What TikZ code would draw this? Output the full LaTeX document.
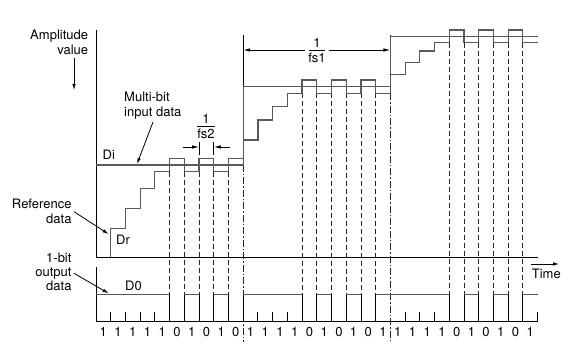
\documentclass[tikz,border=0pt]{standalone}
\usepackage{fontspec}
\setmainfont{TeX Gyre Heros}
\usetikzlibrary{arrows.meta}
\begin{document}
\begin{tikzpicture}[x=1pt,y=-1pt,
  axis/.style={line width=0.9pt,black},
  thin/.style={line width=0.8pt,black},
  wave/.style={line width=1.2pt,black!65,line join=miter},
  dsh/.style={line width=0.8pt,black!85,dash pattern=on 5pt off 3pt},
  dashdot/.style={line width=0.8pt,black!85,dash pattern=on 7pt off 2pt on 1.5pt off 2pt},
  lbl/.style={font=\fontsize{13}{14.7}\selectfont,inner sep=0pt},
  arr/.style={line width=0.8pt,-{Latex[length=6pt,width=3.5pt]}},
  dimarr/.style={line width=0.8pt,-{Latex[length=7pt,width=3.5pt]}}
]
\useasboundingbox (0,0) rectangle (570,347);

% axes
\draw[axis] (96,30) -- (96,257) -- (537.6,257);
\draw[axis] (96,267) -- (96,321) -- (537.6,321) -- (537.6,312);
\foreach \k in {1,2,3,4,11,12,13,21,22,23}
  \draw[axis] ({96+14.72*\k},321) -- ({96+14.72*\k},312);

% dashed guide lines
\foreach \k in {5,...,9}
  \draw[dsh] ({96+14.72*\k},171.7) -- ({96+14.72*\k},294.3);
\foreach \k in {14,...,19}
  \draw[dsh] ({96+14.72*\k},93.3) -- ({96+14.72*\k},294.3);
\foreach \k in {24,...,29}
  \draw[dsh] ({96+14.72*\k},42.7) -- ({96+14.72*\k},294.3);
\draw[dashdot] ({96+14.72*10},165) -- ({96+14.72*10},341.7);
\draw[dashdot] ({96+14.72*20},93.3) -- ({96+14.72*20},341.7);

% extension lines for 1/fs1
\draw[thin] ({96+14.72*10},35) -- ({96+14.72*10},165);
\draw[thin] ({96+14.72*20},35) -- ({96+14.72*20},37);

% Di (multi-bit input data)
\draw[wave] (96,165) -- ({96+14.72*10},165) -- ({96+14.72*10},86.7)
  -- ({96+14.72*20},86.7) -- ({96+14.72*20},36.7) -- (537.6,36.7);

% Dr (reference data)
\draw[wave] ({96+14.72*1},257)
  foreach \k/\v in {1/228.3,2/208.3,3/188.3,4/171.7,5/158.3,6/171.7,7/158.3,8/171.7,9/158.3,
    10/140,11/120,12/106.7,13/93.3,14/80,15/93.3,16/80,17/93.3,18/80,19/93.3,
    20/74.3,21/62.7,22/51,23/42.7,24/30,25/42.7,26/30,27/42.7,28/30,29/42.7}
  { -- ({96+14.72*\k},\v) -- ({96+14.72*(\k+1)},\v) };

% D0 (1-bit output data)
\draw[wave] (96,294.3) -- ({96+14.72*5},294.3);
\draw[axis] ({96+14.72*5},294.3) -- ({96+14.72*5},321);
\foreach \a/\b in {6/7,8/9,10/14,15/16,17/18,19/24,25/26,27/28} {
  \draw[axis] ({96+14.72*\a},321) -- ({96+14.72*\a},294.3);
  \draw[wave] ({96+14.72*\a},294.3) -- ({96+14.72*\b},294.3);
  \draw[axis] ({96+14.72*\b},294.3) -- ({96+14.72*\b},321);
}
\draw[axis] ({96+14.72*29},321) -- ({96+14.72*29},294.3);
\draw[wave] ({96+14.72*29},294.3) -- (537.6,294.3);

% bit labels
\foreach \k/\b in {0/1,1/1,2/1,3/1,4/1,5/0,6/1,7/0,8/1,9/0,
  10/1,11/1,12/1,13/1,14/0,15/1,16/0,17/1,18/0,19/1,
  20/1,21/1,22/1,23/1,24/0,25/1,26/0,27/1,28/0,29/1}
  \node[lbl,anchor=base] (bit\k) at ({96+14.72*(\k+0.5)},336) {\b};

% 1/fs1
\node[lbl] (fsonenum) at (317,43.3) {1};
\node[lbl] (fsoneden) at (317,58.3) {fs1};
\draw[thin] (309,50) -- (325,50);
\coordinate (fsoneL) at ({96+14.72*10},50);
\coordinate (fsoneR) at ({96+14.72*20},50);
\coordinate (fsoneLs) at (305,50);
\coordinate (fsoneRs) at (329,50);
\draw[dimarr] (fsoneLs) -- (fsoneL);
\draw[dimarr] (fsoneRs) -- (fsoneR);

% 1/fs2
\node[lbl] (fstwonum) at (206,119.3) {1};
\node[lbl] (fstwoden) at (206,134) {fs2};
\draw[thin] (197,126.7) -- (215,126.7);
\draw[thin] ({96+14.72*7},141.7) -- ({96+14.72*7},155);
\draw[thin] ({96+14.72*8},141.7) -- ({96+14.72*8},155);
\coordinate (fstwoL) at ({96+14.72*7},147);
\coordinate (fstwoR) at ({96+14.72*8},147);
\coordinate (fstwoLs) at (182.7,147);
\coordinate (fstwoRs) at (230,147);
\draw[dimarr] (fstwoLs) -- (fstwoL);
\draw[dimarr] (fstwoRs) -- (fstwoR);

% labels (base anchor = baseline of last line)
\node[lbl,anchor=base east,align=right] (amp) at (88.3,54.5) {Amplitude\\value};
\coordinate (ampS) at (74,58);
\coordinate (ampE) at (74,90);
\draw[arr] (ampS) -- (ampE);

\node[lbl,anchor=base west,align=left] (mbit) at (124,116.2) {Multi-bit\\input data};
\coordinate (mbS) at (153,122);
\coordinate (mbE) at (137,164);
\draw[arr] (mbS) -- (mbE);

\node[lbl,anchor=base west] (di) at (102.5,160) {Di};

\node[lbl,anchor=base east,align=right] (ref) at (71.7,223.2) {Reference\\data};
\coordinate (refS) at (74,211.7);
\coordinate (refE) at (108.5,234);
\draw[arr] (refS) -- (refE);

\node[lbl,anchor=base west] (dr) at (116,244.3) {Dr};

\node[lbl,anchor=base east,align=right,font=\fontsize{13}{14.3}\selectfont] (obit) at (71.7,290.7) {1-bit\\output\\data};
\coordinate (obS) at (74,273.3);
\coordinate (obE) at (108.5,293.3);
\draw[arr] (obS) -- (obE);

\node[lbl,anchor=base west] (dzero) at (125,290.7) {D0};

\node[lbl,anchor=base west] (time) at (531.7,278.3) {Time};
\coordinate (tS) at (530.7,264);
\coordinate (tE) at (559,264);
\draw[arr] (tS) -- (tE);
\end{tikzpicture}
\end{document}
